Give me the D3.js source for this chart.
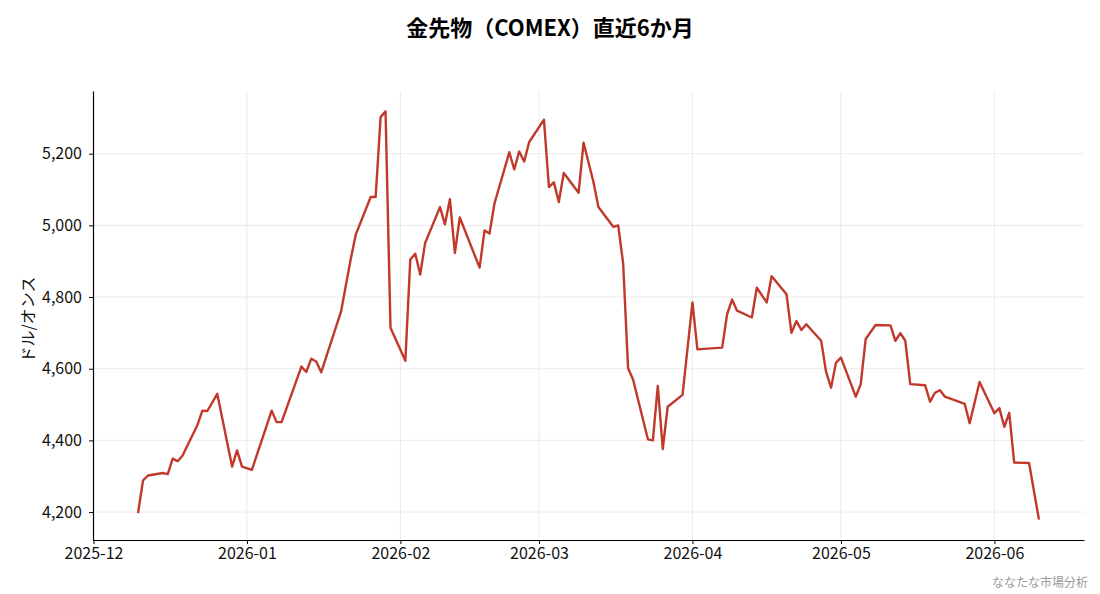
<!DOCTYPE html>
<html>
<head>
<meta charset="utf-8">
<script src="https://cdn.jsdelivr.net/npm/d3@7"></script>
<style>
    html, body { margin: 0; padding: 0; background: #fff; }
    svg { display: block; font-family: "Noto Sans CJK JP", "Noto Sans", sans-serif; }
</style>
</head>
<body>
<div id="chart"></div>
<script>
"use strict";

// ------------------------- Data -------------------------

const dates = [
    '2025-12-10', '2025-12-11', '2025-12-12', '2025-12-15', '2025-12-16', '2025-12-17', '2025-12-18', '2025-12-19',
    '2025-12-22', '2025-12-23', '2025-12-24', '2025-12-26', '2025-12-29', '2025-12-30', '2025-12-31',
    '2026-01-02', '2026-01-06', '2026-01-07', '2026-01-08', '2026-01-12', '2026-01-13', '2026-01-14', '2026-01-15',
    '2026-01-16', '2026-01-20', '2026-01-22', '2026-01-23', '2026-01-26', '2026-01-27', '2026-01-28', '2026-01-29',
    '2026-01-30', '2026-02-02', '2026-02-03', '2026-02-04', '2026-02-05', '2026-02-06', '2026-02-09', '2026-02-10',
    '2026-02-11', '2026-02-12', '2026-02-13', '2026-02-17', '2026-02-18', '2026-02-19', '2026-02-20', '2026-02-23',
    '2026-02-24', '2026-02-25', '2026-02-26', '2026-02-27', '2026-03-02', '2026-03-03', '2026-03-04', '2026-03-05',
    '2026-03-06', '2026-03-09', '2026-03-10', '2026-03-12', '2026-03-13', '2026-03-16', '2026-03-17', '2026-03-18',
    '2026-03-19', '2026-03-20', '2026-03-23', '2026-03-24', '2026-03-25', '2026-03-26', '2026-03-27', '2026-03-30',
    '2026-04-01', '2026-04-02', '2026-04-07', '2026-04-08', '2026-04-09', '2026-04-10', '2026-04-13', '2026-04-14',
    '2026-04-16', '2026-04-17', '2026-04-20', '2026-04-21', '2026-04-22', '2026-04-23', '2026-04-24', '2026-04-27',
    '2026-04-28', '2026-04-29', '2026-04-30', '2026-05-01', '2026-05-04', '2026-05-05', '2026-05-06', '2026-05-08',
    '2026-05-11', '2026-05-12', '2026-05-13', '2026-05-14', '2026-05-15', '2026-05-18', '2026-05-19', '2026-05-20',
    '2026-05-21', '2026-05-22', '2026-05-26', '2026-05-27', '2026-05-29', '2026-06-01', '2026-06-02', '2026-06-03',
    '2026-06-04', '2026-06-05', '2026-06-08', '2026-06-10'
];

const prices = [
    4197, 4288, 4302, 4309, 4306, 4349, 4342, 4358,
    4443, 4483, 4482, 4530, 4327, 4372, 4327,
    4318, 4483, 4451, 4451, 4606, 4591, 4628, 4620,
    4590, 4759, 4908, 4975, 5079, 5079, 5302, 5318,
    4714, 4622, 4905, 4921, 4863, 4951, 5051, 5003,
    5073, 4923, 5022, 4882, 4986, 4977, 5061, 5204,
    5156, 5206, 5178, 5232, 5295, 5107, 5120, 5065,
    5146, 5091, 5231, 5121, 5051, 4996, 5000, 4894,
    4601, 4570, 4403, 4400, 4552, 4376, 4494, 4527,
    4785, 4654, 4659, 4752, 4793, 4762, 4743, 4826,
    4785, 4858, 4808, 4700, 4733, 4708, 4724, 4678,
    4591, 4547, 4617, 4631, 4522, 4557, 4683, 4722,
    4721, 4678, 4699, 4678, 4557, 4554, 4508, 4533,
    4540, 4522, 4502, 4448, 4563, 4476, 4490, 4438,
    4477, 4338, 4337, 4179
];

const yTicks = [4200, 4400, 4600, 4800, 5000, 5200];

const title = '金先物（COMEX）直近6か月';
const yLabel = 'ドル/オンス';
const credit = 'ななたな市場分析';


// ------------------------- Layout -------------------------

const width = 1100;
const height = 594;
const margin = { top: 91, right: 16, bottom: 54, left: 93 };
const lineColor = '#c0392b';

const parseDate = d3.timeParse('%Y-%m-%d');
const points = dates.map((d, i) => ({ date: parseDate(d), price: prices[i] }));

const svg = d3.select('#chart')
    .append('svg')
    .attr('width', width)
    .attr('height', height);

// 5% padding on both axes, as the original plotting tool does
const [t0, t1] = d3.extent(points, p => p.date);
const tPad = (t1 - t0) * 0.05;
const [v0, v1] = d3.extent(points, p => p.price);
const vPad = (v1 - v0) * 0.05;

const x = d3.scaleTime()
    .domain([new Date(+t0 - tPad), new Date(+t1 + tPad)])
    .range([margin.left, width - margin.right]);

const y = d3.scaleLinear()
    .domain([v0 - vPad, v1 + vPad])
    .range([height - margin.bottom, margin.top]);

const monthTicks = d3.timeMonth.range(d3.timeMonth.ceil(x.domain()[0]), x.domain()[1]);


// ------------------------- Grid -------------------------

const grid = svg.append('g').attr('stroke', '#e6e6e6').attr('stroke-width', 0.8);

grid.selectAll('.grid-x')
    .data(monthTicks)
    .join('line')
    .attr('x1', d => x(d))
    .attr('x2', d => x(d))
    .attr('y1', margin.top)
    .attr('y2', height - margin.bottom);

grid.selectAll('.grid-y')
    .data(yTicks)
    .join('line')
    .attr('x1', margin.left)
    .attr('x2', width - margin.right)
    .attr('y1', d => y(d))
    .attr('y2', d => y(d));


// ------------------------- Axes -------------------------

function styleAxis(g) {
    g.select('.domain').attr('stroke', '#000').attr('stroke-width', 1.2);
    g.selectAll('.tick line').attr('stroke', '#000').attr('stroke-width', 1);
    g.selectAll('.tick text')
        .attr('fill', '#111')
        .style('font-size', '16px')
        .style('font-family', '"Noto Sans CJK JP", sans-serif');
}

svg.append('g')
    .attr('transform', `translate(0,${height - margin.bottom})`)
    .call(d3.axisBottom(x)
        .tickValues(monthTicks)
        .tickFormat(d3.timeFormat('%Y-%m'))
        .tickSizeInner(4)
        .tickSizeOuter(0)
        .tickPadding(4))
    .call(styleAxis);

svg.append('g')
    .attr('transform', `translate(${margin.left},0)`)
    .call(d3.axisLeft(y)
        .tickValues(yTicks)
        .tickFormat(d3.format(','))
        .tickSizeInner(4)
        .tickSizeOuter(0)
        .tickPadding(7))
    .call(styleAxis);


// ------------------------- Line -------------------------

const line = d3.line()
    .x(p => x(p.date))
    .y(p => y(p.price));

svg.append('path')
    .datum(points)
    .attr('fill', 'none')
    .attr('stroke', lineColor)
    .attr('stroke-width', 2.4)
    .attr('stroke-linejoin', 'round')
    .attr('d', line);


// ------------------------- Texts -------------------------

svg.append('text')
    .attr('x', width / 2)
    .attr('y', 36)
    .attr('text-anchor', 'middle')
    .attr('font-size', 22)
    .attr('font-weight', 'bold')
    .attr('fill', '#000')
    .text(title);

svg.append('text')
    .attr('transform', `translate(34,${(margin.top + height - margin.bottom) / 2 + 4}) rotate(-90)`)
    .attr('text-anchor', 'middle')
    .attr('font-size', 16)
    .attr('fill', '#111')
    .text(yLabel);

svg.append('text')
    .attr('x', 1088)
    .attr('y', 587)
    .attr('text-anchor', 'end')
    .attr('font-size', 12)
    .attr('fill', '#999')
    .text(credit);
</script>
</body>
</html>
